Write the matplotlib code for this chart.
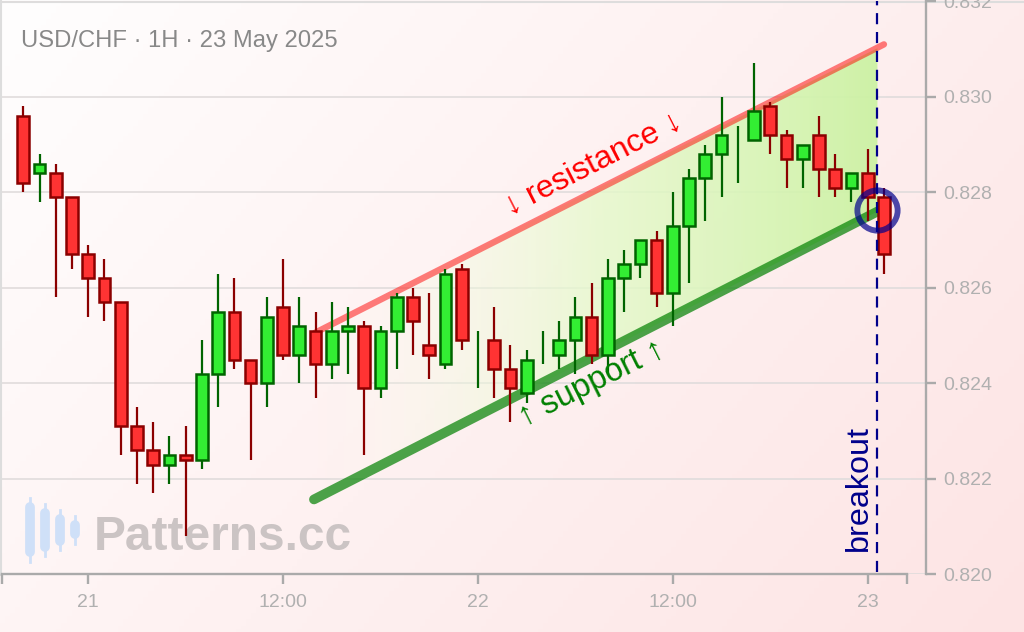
#!/usr/bin/python3
import matplotlib
matplotlib.use('Agg')
import matplotlib.pyplot as plt
from matplotlib.patches import Polygon
from matplotlib.colors import LinearSegmentedColormap
import numpy as np

plt.rcParams['font.family'] = ['Liberation Sans', 'DejaVu Sans']

# candle bodies: top / bottom of the body, green or red, and the wicks
tops = [.8296, .8286, .8284, .8279, .8267, .8262, .8257, .8231, .8226, .8225,
        .8225, .8242, .8255, .8255, .8245, .8254, .8256, .8252, .8251, .8251,
        .8252, .8252, .8251, .8258, .8258, .8248, .8263, .8264, .8245, .8249,
        .8243, .8245, .8248, .8249, .8254, .8254, .8262, .8265, .8270, .8270,
        .8273, .8283, .8288, .8292, .8288, .8297, .8298, .8292, .8290, .8292,
        .8285, .8284, .8284, .8279]
bottoms = [.8282, .8284, .8279, .8267, .8262, .8257, .8231, .8226, .8223, .8223,
           .8224, .8224, .8242, .8245, .8240, .8240, .8246, .8246, .8244, .8244,
           .8251, .8239, .8239, .8251, .8253, .8246, .8244, .8249, .8245, .8243,
           .8239, .8238, .8248, .8246, .8249, .8246, .8246, .8262, .8265, .8259,
           .8259, .8273, .8283, .8288, .8288, .8291, .8292, .8287, .8287, .8285,
           .8281, .8281, .8279, .8267]
highs = [.8298, .8288, .8286, .8279, .8269, .8266, .8257, .8235, .8232, .8229,
         .8231, .8249, .8263, .8262, .8245, .8258, .8266, .8258, .8255, .8257,
         .8256, .8253, .8252, .8259, .8260, .8259, .8264, .8265, .8251, .8256,
         .8248, .8247, .8251, .8253, .8258, .8261, .8266, .8268, .8270, .8272,
         .8280, .8285, .8290, .8300, .8294, .8307, .8299, .8293, .8290, .8296,
         .8288, .8284, .8289, .8281]
lows = [.8280, .8278, .8258, .8264, .8254, .8253, .8225, .8219, .8217, .8219,
        .8208, .8222, .8235, .8243, .8224, .8235, .8245, .8240, .8237, .8241,
        .8242, .8225, .8237, .8243, .8246, .8241, .8243, .8247, .8239, .8237,
        .8232, .8236, .8244, .8243, .8242, .8244, .8242, .8255, .8262, .8256,
        .8252, .8261, .8274, .8279, .8282, .8291, .8288, .8281, .8281, .8279,
        .8279, .8278, .8274, .8263]
colors = list('RGRRRRRRRGRGGRRGRGRGGRGGRRGRGRRGGGGRGGGRGGGGGGRRGRRGRR')

y_ticks = [.820, .822, .824, .826, .828, .830, .832]
x_ticks = [-1.3, 4, 16, 28, 40, 52, 54.4]
x_labels = ['', '21', '12:00', '22', '12:00', '23', '']

resistance_x = [17.97, 53.0]
resistance_y = [.82506, .8311]
support_x = [17.9, 52.6]
support_y = [.82157, .8276]
breakout_x = 52.6
breakout_circle = (52.6, .82763)

fig = plt.figure(figsize=(10.24, 6.32), dpi=100)

# pixel axes for background, title and watermark
bg = fig.add_axes([0, 0, 1, 1], zorder=0)
bg.set_xlim(0, 1024)
bg.set_ylim(632, 0)
bg.axis('off')
gx, gy = np.meshgrid(np.linspace(0, 1, 200), np.linspace(0, 1, 200))
grad = (gx * 0.65 + gy * 0.35)[..., None]
start = np.array([255, 254, 254]) / 255
end = np.array([253, 228, 228]) / 255
bg.imshow(start + (end - start) * grad, extent=(0, 1024, 632, 0), aspect='auto', zorder=0)
bg.plot([1, 1], [0, 575], color='#dddddd', lw=1.5, zorder=1)
bg.plot([0, 1024], [2, 2], color='#dddddd', lw=1.5, zorder=1)
bg.text(21, 41, 'USD/CHF · 1H · 23 May 2025', fontsize=17.1, color='#888888',
        va='center', ha='left')

logo_x = [30, 45, 60, 75]
logo_wick = [(498, 562), (504, 556), (510, 550), (516, 544)]
logo_body = [(504, 555), (510, 550), (516, 544), (522, 537)]
for lx, w, b in zip(logo_x, logo_wick, logo_body):
    bg.plot([lx, lx], w, color='#cfe0f8', lw=2, zorder=2)
    bg.plot([lx, lx], [b[0] + 3, b[1] - 3], color='#cfe0f8', lw=7, zorder=2,
            solid_capstyle='round')
bg.text(94, 550, 'Patterns.cc', fontsize=34.5, fontweight='bold', color='#cbc4c4',
        va='baseline', ha='left', zorder=2)

# main chart axes, placed so the price scale lands on the picture's gridlines
ax = fig.add_axes([2 / 1024, (632 - 574.4) / 632, 924 / 1024, 573 / 632], zorder=1)
ax.patch.set_alpha(0)
ax.set_xlim(-1.31, 55.59)
ax.set_ylim(.820, .832)

ax.set_yticks(y_ticks)
ax.set_yticklabels(['%.3f' % v for v in y_ticks])
ax.yaxis.tick_right()
ax.set_xticks(x_ticks)
ax.set_xticklabels(x_labels)
ax.tick_params(axis='y', length=7.5, width=1.7, color='#aaaaaa', labelcolor='#b0b0b0',
               labelsize=14, pad=5)
ax.tick_params(axis='x', length=7, width=1.7, color='#aaaaaa', labelcolor='#b0b0b0',
               labelsize=14, pad=7)
ax.grid(axis='y', color='#e0dcdc', lw=1.2, zorder=1)
ax.set_axisbelow(True)
for s in ['top', 'left']:
    ax.spines[s].set_visible(False)
ax.spines['right'].set_color('#aaaaaa')
ax.spines['right'].set_linewidth(1.7)
ax.spines['bottom'].set_color('#aaaaaa')
ax.spines['bottom'].set_linewidth(1.7)
ax.spines['bottom'].set_bounds(-1.3, 54.4)

# channel fill fades in from left to right
fade = LinearSegmentedColormap.from_list('fade', [(1.0, 1.0, 0.95, 0.0),
                                                  (0.90, 0.98, 0.80, 0.8),
                                                  (0.80, 0.95, 0.64, 0.95)])
img = ax.imshow(np.linspace(0, 1, 256)[None, :], cmap=fade, aspect='auto', zorder=2,
                extent=(resistance_x[0], breakout_x, .820, .832))
clip = Polygon([(resistance_x[0], resistance_y[0] + .00007), (breakout_x, .83102),
                (breakout_x, support_y[1]), (support_x[0], support_y[0])],
               transform=ax.transData, fc='none', ec='none')
ax.add_patch(clip)
img.set_clip_path(clip)
ax.set_xlim(-1.31, 55.59)
ax.set_ylim(.820, .832)

ax.plot(resistance_x, resistance_y, color='#ff0000', alpha=0.5, lw=4.6, zorder=3,
        solid_capstyle='round')
ax.plot(support_x, support_y, color='#008000', alpha=0.7, lw=7, zorder=3,
        solid_capstyle='round')

# candles
for i in range(len(tops)):
    up = colors[i] == 'G'
    edge = '#006400' if up else '#8b0000'
    face = '#33ee33' if up else '#ff3333'
    ax.vlines(i, lows[i], highs[i], color=edge, lw=1.6, zorder=4)
    if tops[i] != bottoms[i]:
        ax.bar(i, tops[i] - bottoms[i], bottom=bottoms[i], width=0.72, color=face,
               edgecolor=edge, lw=1.8, zorder=5)

ax.plot([breakout_x, breakout_x], [.82005, .832], color='#00008b', lw=1.6,
        linestyle=(0, (5, 3.5)), zorder=6, clip_on=False)
ax.plot([breakout_circle[0]], [breakout_circle[1]], marker='o', ms=29, mew=4.2,
        mfc='none', mec='#00008b', alpha=0.7, zorder=7, clip_on=False)

ax.text(35.1, .82861, '↓ resistance ↓', fontsize=23, color='#ff0000', rotation=27,
        rotation_mode='anchor', ha='center', va='center', zorder=8)
ax.text(35.0, .82399, '↑ support ↑', fontsize=23.5, color='#008000', rotation=26.5,
        rotation_mode='anchor', ha='center', va='center', zorder=8)
ax.text(52.4, .8205, 'breakout', fontsize=23.3, color='#00008b', rotation=90,
        ha='right', va='bottom', zorder=8)

fig.savefig('out.png', dpi=100)
